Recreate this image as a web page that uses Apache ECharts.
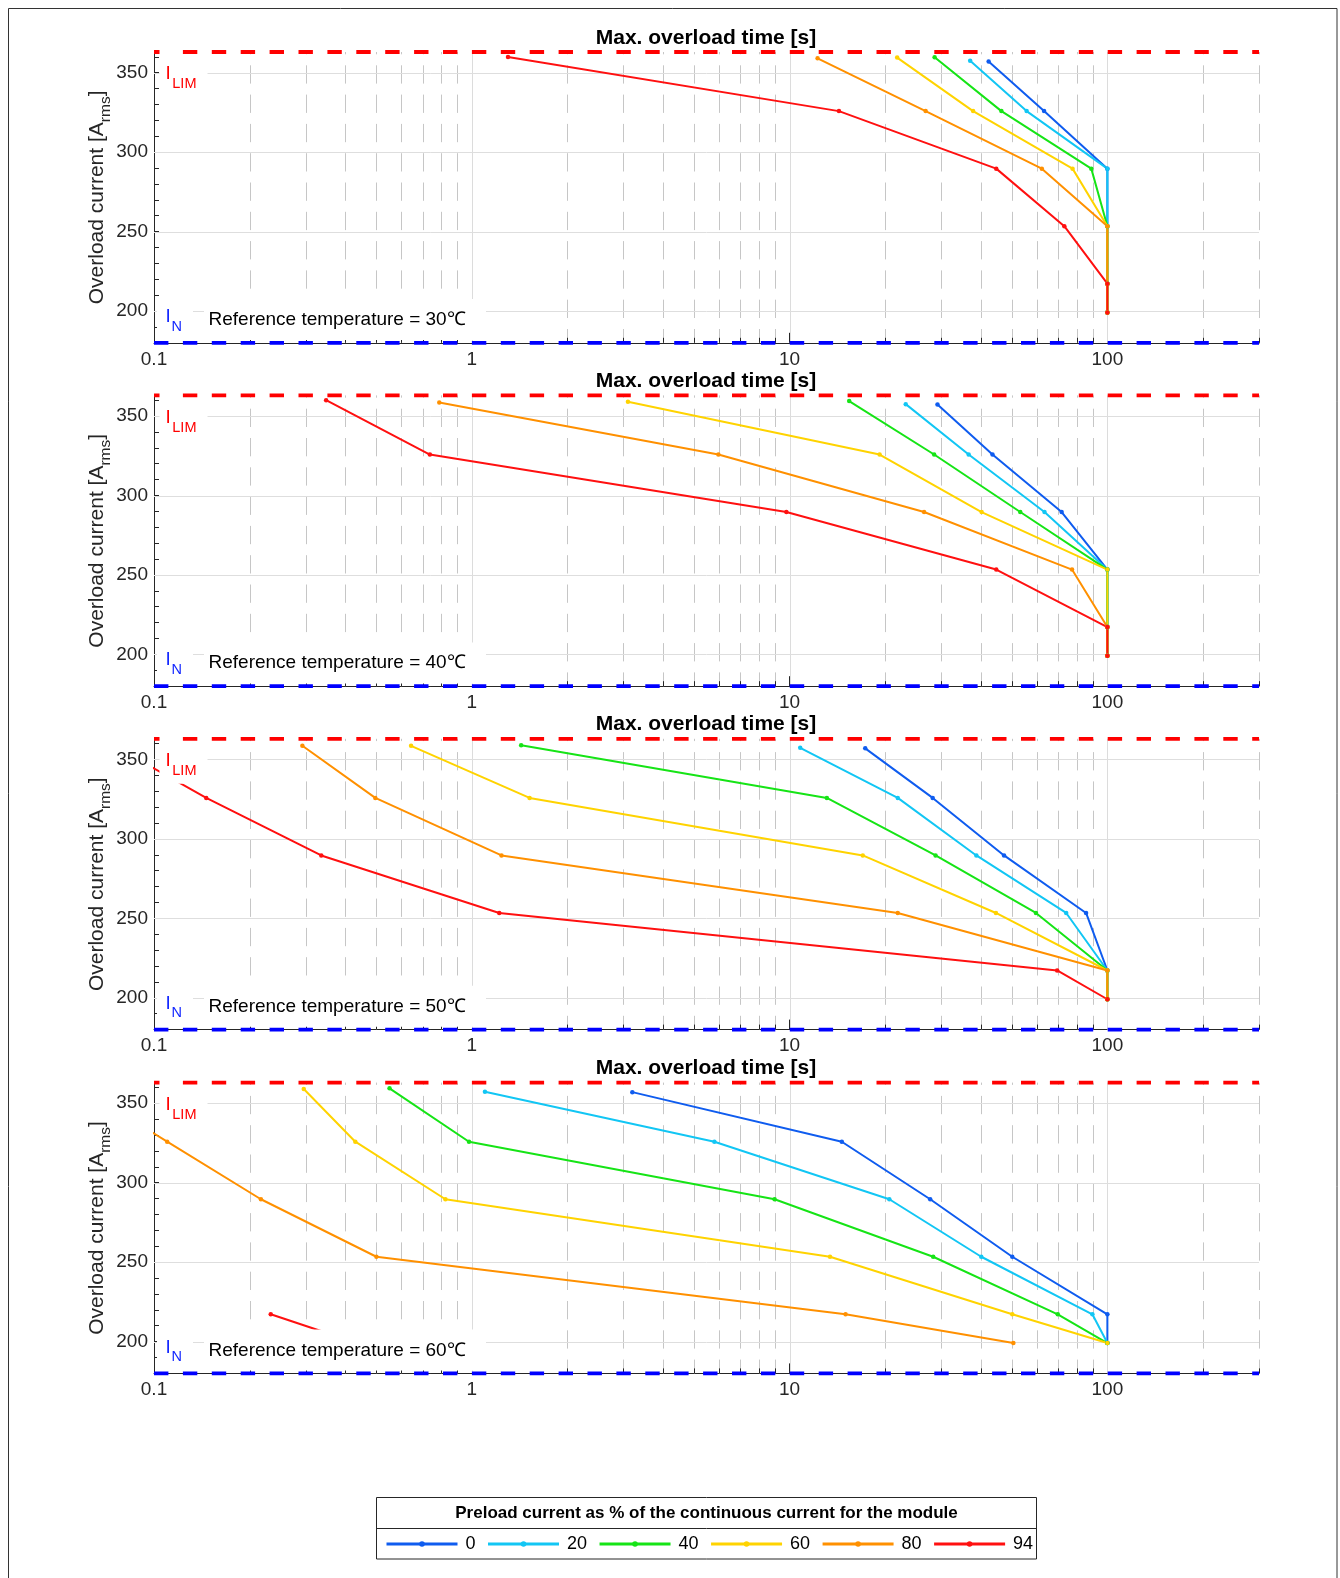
<!DOCTYPE html>
<html><head><meta charset="utf-8">
<script src="https://cdn.jsdelivr.net/npm/echarts@6/dist/echarts.min.js"></script>
<style>html,body{margin:0;padding:0;background:#fff}#c{width:1340px;height:1578px}</style>
</head><body><div id="c"></div>
<script>
// ---------------- DATA ----------------
const SERIES_NAMES = ['0', '20', '40', '60', '80', '94'];
const PANEL_TEMPS = ['30', '40', '50', '60'];
const X_MAJOR = [0.1, 1, 10, 100];
const X_MINOR = [0.2,0.3,0.4,0.5,0.6,0.7,0.8,0.9,2,3,4,5,6,7,8,9,20,30,40,50,60,70,80,90,200,300];
const Y_GRID = [200, 250, 300, 350];
const X_RANGE = [0.1, 300];
const Y_RANGE = [180, 363];

// 30 °C : overload time [s] / overload current [A]
const t30_0  = [42.3, 63.2, 100, 100, 100, 100];   const i30_0  = [357, 325.8, 289.6, 253.4, 217.2, 199.1];
const t30_20 = [37.0, 55.7, 100, 100, 100, 100];   const i30_20 = [357.5, 325.8, 289.6, 253.4, 217.2, 199.1];
const t30_40 = [28.6, 46.4, 89.0, 100, 100, 100];  const i30_40 = [359.7, 325.8, 289.6, 253.4, 217.2, 199.1];
const t30_60 = [21.8, 37.8, 77.7, 100, 100, 100];  const i30_60 = [359.5, 325.8, 289.6, 253.4, 217.2, 199.1];
const t30_80 = [12.25, 26.8, 62.2, 100, 100, 100]; const i30_80 = [359, 325.8, 289.6, 253.4, 217.2, 199.1];
const t30_94 = [1.30, 14.3, 44.7, 73.2, 100, 100]; const i30_94 = [359.8, 325.8, 289.6, 253.4, 217.2, 199.1];
// 40 °C
const t40_0  = [29.2, 43.5, 71.8, 100, 100, 100];  const i40_0  = [357.3, 325.8, 289.6, 253.4, 217.2, 199.1];
const t40_20 = [23.2, 36.6, 63.4, 100, 100, 100];  const i40_20 = [357.5, 325.8, 289.6, 253.4, 217.2, 199.1];
const t40_40 = [15.4, 28.5, 53.2, 100, 100, 100];  const i40_40 = [359.4, 325.8, 289.6, 253.4, 217.2, 199.1];
const t40_60 = [3.10, 19.2, 40.2, 100, 100, 100];  const i40_60 = [359, 325.8, 289.6, 253.4, 217.2, 199.1];
const t40_80 = [0.79, 5.97, 26.5, 77.4, 100, 100]; const i40_80 = [358.5, 325.8, 289.6, 253.4, 217.2, 199.1];
const t40_94 = [0.348, 0.738, 9.77, 44.7, 100, 100]; const i40_94 = [360, 325.8, 289.6, 253.4, 217.2, 199.1];
// 50 °C
const t50_0  = [17.3, 28.2, 47.3, 85.7, 100, 100]; const i50_0  = [357, 325.8, 289.6, 253.4, 217.2, 199.1];
const t50_20 = [10.8, 21.9, 38.7, 74.2, 100, 100]; const i50_20 = [357.3, 325.8, 289.6, 253.4, 217.2, 199.1];
const t50_40 = [1.43, 13.1, 28.8, 59.6, 100, 100]; const i50_40 = [359, 325.8, 289.6, 253.4, 217.2, 199.1];
const t50_60 = [0.644, 1.52, 17.0, 44.6, 100, 100]; const i50_60 = [358.6, 325.8, 289.6, 253.4, 217.2, 199.1];
const t50_80 = [0.293, 0.497, 1.24, 21.9, 100, 100]; const i50_80 = [358.6, 325.8, 289.6, 253.4, 217.2, 199.1];
const t50_94 = [0.074, 0.146, 0.336, 1.22, 69.5, 100]; const i50_94 = [359, 325.8, 289.6, 253.4, 217.2, 199.1];
// 60 °C
const t60_0  = [3.20, 14.6, 27.7, 50.2, 100, 100]; const i60_0  = [357, 325.8, 289.6, 253.4, 217.2, 199.1];
const t60_20 = [1.10, 5.80, 20.6, 40.1, 89.7, 100]; const i60_20 = [357.3, 325.8, 289.6, 253.4, 217.2, 199.1];
const t60_40 = [0.551, 0.98, 8.97, 28.3, 69.8, 100]; const i60_40 = [359.4, 325.8, 289.6, 253.4, 217.2, 199.1];
const t60_60 = [0.296, 0.43, 0.826, 13.4, 50.2, 100]; const i60_60 = [359, 325.8, 289.6, 253.4, 217.2, 199.1];
const t60_80 = [0.0596, 0.110, 0.217, 0.501, 15.0, 50.6]; const i60_80 = [359, 325.8, 289.6, 253.4, 217.2, 199.1];
const t60_94 = [0.233, 0.435]; const i60_94 = [217.2, 199.1];

const PANEL_T = [[t30_0,t30_20,t30_40,t30_60,t30_80,t30_94],[t40_0,t40_20,t40_40,t40_60,t40_80,t40_94],
                 [t50_0,t50_20,t50_40,t50_60,t50_80,t50_94],[t60_0,t60_20,t60_40,t60_60,t60_80,t60_94]];
const PANEL_I = [[i30_0,i30_20,i30_40,i30_60,i30_80,i30_94],[i40_0,i40_20,i40_40,i40_60,i40_80,i40_94],
                 [i50_0,i50_20,i50_40,i50_60,i50_80,i50_94],[i60_0,i60_20,i60_40,i60_60,i60_80,i60_94]];

// ---------------- STYLE / LAYOUT ----------------
const COLORS = ['#0f5cef', '#12c6f4', '#16e416', '#ffd300', '#ff9000', '#ff1010'];
const FONT = "'Liberation Sans', Arial, Helvetica, sans-serif";
const AX = '#262626';
const TOPS = [52, 395.4, 738.8, 1082.6];
const PL = 154, PW = 1105, PH = 290.8;

const mctx = document.createElement('canvas').getContext('2d');
function tw(str, size, weight) { mctx.font = (weight || 'normal') + ' ' + size + 'px ' + FONT; return mctx.measureText(str).width; }
function T(x, base, str, size, o) {
  o = o || {};
  const al = o.align || 'left';
  return { type: 'text', z: 101, style: { text: str, x: x, y: base - 0.3465 * size,
    font: (o.weight || 'normal') + ' ' + size + 'px ' + FONT, fill: o.color || '#000',
    textAlign: al, align: al, textVerticalAlign: 'middle', verticalAlign: 'middle' } };
}
function R(x, y, w, h, o) {
  o = o || {};
  return { type: 'rect', z: o.z || 100, shape: { x: x, y: y, width: w, height: h },
    style: { fill: o.fill || '#fff', stroke: o.stroke || null, lineWidth: o.lw || 0 } };
}

const gridItems = [];
X_MINOR.forEach(v => gridItems.push([v, Y_RANGE[0], 0]));
X_MAJOR.slice(1).forEach(v => gridItems.push([v, Y_RANGE[0], 1]));
Y_GRID.forEach(v => gridItems.push([X_RANGE[0], v, 2]));

function gridRender(params, api) {
  const k = api.value(2);
  if (k === 2) {
    const y = api.value(1);
    const a = api.coord([X_RANGE[0], y]), b = api.coord([X_RANGE[1], y]);
    return { type: 'line', shape: { x1: a[0], y1: Math.round(a[1]) + 0.5, x2: b[0], y2: Math.round(b[1]) + 0.5 },
      style: { stroke: '#dedede', lineWidth: 1 } };
  }
  const x = api.value(0);
  const a = api.coord([x, Y_RANGE[1]]), b = api.coord([x, Y_RANGE[0]]);
  const xx = Math.round(a[0]) + 0.5;
  if (k === 1) {
    return { type: 'line', shape: { x1: xx, y1: a[1], x2: xx, y2: b[1] }, style: { stroke: '#dcdcdc', lineWidth: 1 } };
  }
  return { type: 'group', children: [
    { type: 'line', shape: { x1: xx, y1: a[1], x2: xx, y2: b[1] },
      style: { stroke: '#c6c6c6', lineWidth: 1, lineDash: [18.3, 11], lineDashOffset: 16 } },
    { type: 'line', shape: { x1: xx, y1: b[1], x2: xx, y2: b[1] - 5 }, style: { stroke: AX, lineWidth: 1 } }
  ] };
}

const grids = [], xAxes = [], yAxes = [], series = [], graphics = [];
TOPS.forEach((top, p) => {
  grids.push({ left: PL, top: top, width: PW, height: PH, containLabel: false, outerBoundsMode: 'none' });
  xAxes.push({ type: 'log', logBase: 10, gridIndex: p, min: X_RANGE[0], max: X_RANGE[1],
    axisLine: { show: true, lineStyle: { color: AX, width: 1 } },
    axisTick: { show: true, inside: true, length: 10, lineStyle: { color: AX }, customValues: X_MAJOR },
    axisLabel: { show: true, margin: 7, color: AX, fontSize: 19, fontFamily: FONT, customValues: X_MAJOR,
      formatter: v => { const e = Math.log10(v); return Math.abs(e - Math.round(e)) < 1e-6 ? String(Math.pow(10, Math.round(e))) : ''; } },
    splitLine: { show: false }, minorTick: { show: false }, minorSplitLine: { show: false } });
  yAxes.push({ type: 'value', gridIndex: p, min: Y_RANGE[0], max: Y_RANGE[1], interval: 10,
    axisLine: { show: true, lineStyle: { color: AX, width: 1 } },
    axisTick: { show: true, inside: true, length: 5, lineStyle: { color: AX } },
    axisLabel: { show: true, margin: 6, color: AX, fontSize: 19, fontFamily: FONT,
      formatter: v => (Math.abs(v % 50) < 1e-6 ? String(v) : '') },
    splitLine: { show: false } });
  series.push({ type: 'custom', xAxisIndex: p, yAxisIndex: p, z: 1, silent: true, clip: false,
    dimensions: ['x', 'y', 'k'], encode: { x: 0, y: 1 }, renderItem: gridRender, data: gridItems });
  for (let k = 0; k < 6; k++) {
    const ts = PANEL_T[p][k], is = PANEL_I[p][k];
    series.push({ type: 'line', name: SERIES_NAMES[k], xAxisIndex: p, yAxisIndex: p, z: 3, clip: true,
      data: ts.map((t, j) => [t, is[j]]), symbol: 'circle', symbolSize: 4.5, showSymbol: true,
      color: COLORS[k], lineStyle: { width: 2, color: COLORS[k] }, itemStyle: { color: COLORS[k] },
      emphasis: { disabled: true } });
  }
  series.push({ type: 'line', name: 'I_LIM', xAxisIndex: p, yAxisIndex: p, z: 5, clip: false, silent: true,
    data: [[X_RANGE[0], Y_RANGE[1]], [X_RANGE[1], Y_RANGE[1]]], symbol: 'none',
    lineStyle: { color: '#ff0000', width: 3.8, type: [14.4, 14.5] } });
  series.push({ type: 'line', name: 'I_N', xAxisIndex: p, yAxisIndex: p, z: 5, clip: false, silent: true,
    data: [[X_RANGE[0], Y_RANGE[0]], [X_RANGE[1], Y_RANGE[0]]], symbol: 'none',
    lineStyle: { color: '#0000ff', width: 3.8, type: [14.4, 14.5] } });

  // title
  graphics.push(T(706, top - 7, 'Max. overload time [s]', 21, { weight: 'bold', align: 'center' }));
  // I_LIM label (separate backgrounds for "I" and subscript)
  graphics.push(R(159.5, top - 3, 13, 48));
  graphics.push(R(172, top + 8, 35.5, 37));
  graphics.push(T(165.5, top + 28.7, 'I', 19, { color: '#ff0000' }));
  graphics.push(T(172.3, top + 37.3, 'LIM', 14.5, { color: '#ff0000' }));
  // I_N label
  graphics.push(R(157, top + 247, 36, 41));
  graphics.push(T(165.5, top + 271.3, 'I', 19, { color: '#1428ff' }));
  graphics.push(T(171.5, top + 279.7, 'N', 14.5, { color: '#1428ff' }));
  // reference temperature
  graphics.push(R(204, top + 247, 282, 41));
  graphics.push(T(208.5, top + 274.3, 'Reference temperature = ' + PANEL_TEMPS[p] + '℃', 19));
  // y axis name
  const s1 = 'Overload current [A', s2 = 'rms', s3 = ']';
  const w1 = tw(s1, 21), w2 = tw(s2, 15.5), w3 = tw(s3, 21);
  const W = w1 + w2 + w3, x0 = -W / 2;
  graphics.push({ type: 'group', x: 104.5, y: top + PH / 2, rotation: Math.PI / 2, z: 101, children: [
    T(x0, 0, s1, 21, { color: AX }),
    T(x0 + w1, 6.5, s2, 15.5, { color: AX }),
    T(x0 + w1 + w2, 0, s3, 21, { color: AX })
  ] });
});

// figure border and legend box
graphics.push({ type: 'rect', z: 1, shape: { x: 8.5, y: 8.5, width: 1328.5, height: 1600 },
  style: { fill: 'none', stroke: '#333', lineWidth: 1 } });
graphics.push({ type: 'rect', z: 1, shape: { x: 376.5, y: 1497.5, width: 660, height: 61.5 },
  style: { fill: '#fff', stroke: AX, lineWidth: 1 } });
graphics.push({ type: 'line', z: 2, shape: { x1: 376.5, y1: 1528.5, x2: 1036.5, y2: 1528.5 },
  style: { stroke: AX, lineWidth: 1 } });
graphics.push(T(706.5, 1519, 'Preload current as % of the continuous current for the module', 17, { weight: 'bold', align: 'center' }));

const chart = echarts.init(document.getElementById('c'), null, { renderer: 'canvas' });
chart.setOption({
  animation: false,
  backgroundColor: '#fff',
  grid: grids, xAxis: xAxes, yAxis: yAxes, series: series,
  legend: { data: SERIES_NAMES, left: 385, top: 1535, orient: 'horizontal', selectedMode: false,
    itemWidth: 71, itemHeight: 7, itemGap: 11, padding: 0, z: 10,
    textStyle: { fontSize: 18, color: '#000', fontFamily: FONT, padding: [0, 0, 0, 3] },
    lineStyle: { width: 3 } },
  graphic: { elements: graphics }
});
</script></body></html>
